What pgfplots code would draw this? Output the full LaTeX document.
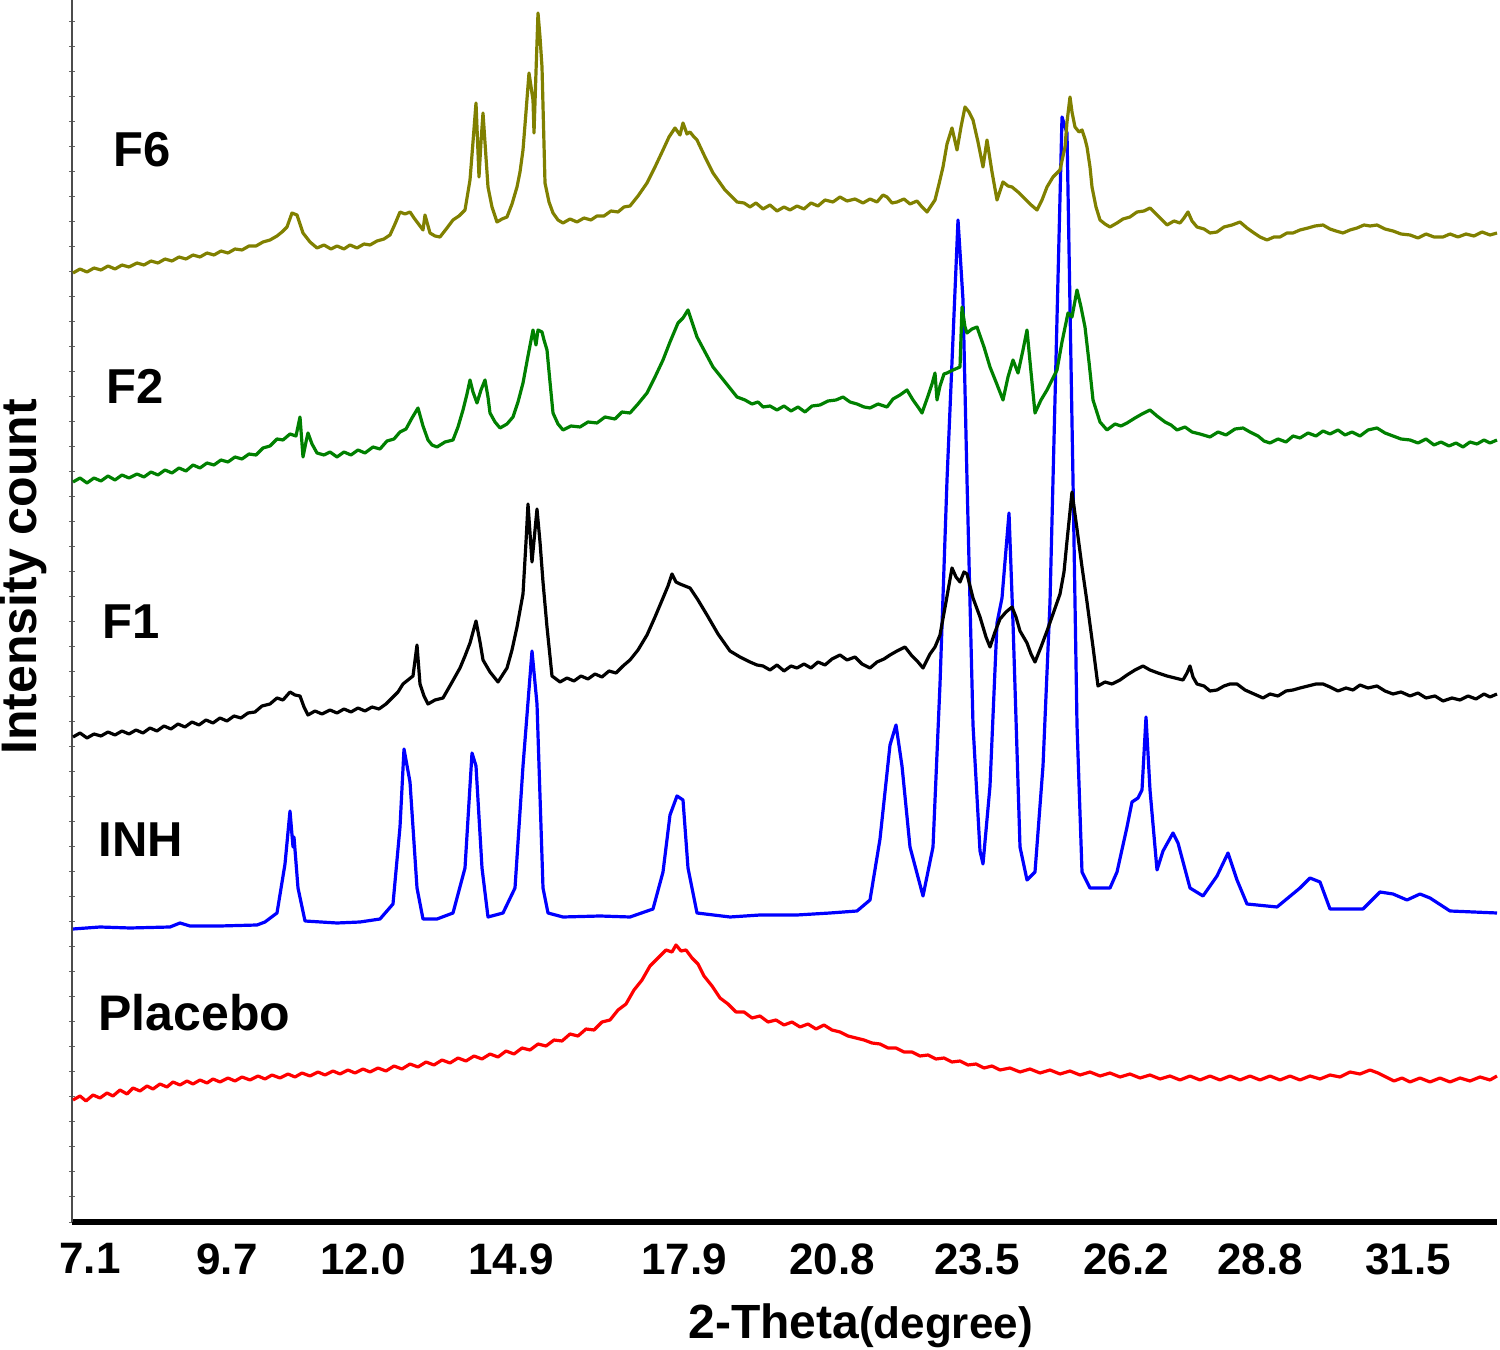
\documentclass[border=0pt]{standalone}
\usepackage{pgfplots}
\pgfplotsset{compat=1.18}
\usepackage{fontspec}
\setmainfont{Liberation Sans}
\definecolor{olivex}{RGB}{128,128,0}
\definecolor{greenx}{RGB}{0,128,0}
\definecolor{bluex}{RGB}{0,0,255}
\definecolor{redx}{RGB}{255,0,0}
\begin{document}
\begin{tikzpicture}
\useasboundingbox (-36pt,-64pt) rectangle (714pt,611pt);
\begin{axis}[
  at={(0,0)}, anchor=south west,
  scale only axis, width=712.5pt, height=611pt,
  xmin=72, xmax=1497, ymin=0, ymax=1222,
  axis x line=bottom, axis y line=left,
  x axis line style={-, line width=3pt, black},
  y axis line style={-, line width=0.8pt, black!70},
  xtick={90,227,363,511,684,832,977,1126,1260,1408},
  xticklabels={7.1,9.7,12.0,14.9,17.9,20.8,23.5,26.2,28.8,31.5},
  xticklabel style={font=\bfseries\fontsize{22}{26}\selectfont, anchor=north, inner sep=0pt, yshift=-9pt},
  major x tick style={draw=none},
  ytick={0,25,...,1222}, yticklabels={},
  major y tick style={black!60, line width=0.5pt},
  major tick length=3pt,
  clip=false,
  every axis plot/.append style={line width=1.6pt, line join=round, no markers},
]
% Placebo
\addplot[redx] coordinates {
(73,122)(80,126)(86,121)(93,127)(100,124)(107,129)(113,126)(120,132)(127,128)(133,134)(140,131)(147,136)(153,133)(160,138)(167,135)(173,140)(180,137)(187,141)(193,138)(200,142)(207,139)(213,143)(220,140)(228,144)(235,141)(242,145)(250,142)(258,146)(265,143)(272,147)(280,144)(288,148)(295,145)(302,149)(310,146)(318,150)(325,147)(333,151)(340,148)(348,152)(355,149)(363,153)(370,150)(378,154)(386,151)(394,156)(402,153)(410,158)(418,155)(426,160)(434,157)(442,162)(450,159)(458,164)(466,161)(474,166)(482,163)(490,168)(498,165)(506,171)(514,168)(522,174)(530,172)(538,178)(546,176)(554,182)(562,181)(570,188)(578,186)(586,193)(594,192)(602,200)(610,202)(618,212)(626,218)(634,232)(642,242)(650,256)(658,264)(666,272)(672,270)(676,277)(681,271)(686,272)(692,264)(698,258)(704,246)(712,236)(720,224)(728,218)(736,210)(744,210)(752,204)(760,206)(768,200)(776,202)(784,197)(792,200)(800,195)(808,198)(816,193)(824,197)(832,192)(840,190)(848,186)(856,184)(864,182)(872,179)(880,178)(888,174)(896,174)(904,170)(912,170)(920,166)(928,167)(936,163)(944,164)(952,160)(960,161)(968,157)(976,158)(984,154)(992,156)(1000,152)(1010,154)(1020,150)(1030,153)(1040,149)(1050,152)(1060,148)(1070,151)(1080,147)(1090,150)(1100,146)(1110,149)(1120,145)(1130,148)(1140,144)(1150,147)(1160,143)(1170,146)(1180,142)(1190,146)(1200,142)(1210,146)(1220,142)(1230,146)(1240,142)(1250,146)(1260,142)(1270,146)(1280,142)(1290,146)(1300,142)(1310,146)(1320,143)(1330,147)(1340,145)(1350,150)(1360,148)(1370,152)(1378,149)(1386,145)(1394,141)(1402,144)(1410,140)(1420,144)(1430,140)(1440,144)(1450,140)(1460,144)(1470,141)(1480,145)(1490,142)(1497,146)
};
% INH
\addplot[bluex] coordinates {
(73,293)(100,295)(130,294)(170,295)(180,299)(190,296)(220,296)(257,297)(265,300)(277,309)(285,358)(290,411)(293,375)(294,385)(298,334)(305,301)(337,299)(360,300)(380,303)(393,318)(400,395)(404,473)(410,440)(417,334)(423,303)(437,303)(453,309)(465,354)(472,469)(476,456)(482,354)(488,305)(503,309)(515,334)(523,456)(532,571)(537,518)(543,334)(548,309)(563,305)(600,306)(630,305)(653,313)(663,350)(670,407)(677,426)(683,422)(688,354)(697,309)(730,305)(760,307)(797,307)(830,309)(857,311)(870,322)(880,383)(890,477)(896,497)(902,456)(910,375)(923,326)(933,375)(940,538)(947,742)(958,1002)(963,922)(967,742)(973,497)(980,371)(983,358)(990,436)(997,599)(1002,624)(1009,709)(1013,599)(1020,375)(1027,342)(1035,350)(1043,456)(1050,620)(1053,742)(1062,1105)(1067,1089)(1073,742)(1077,497)(1082,350)(1090,334)(1110,334)(1117,350)(1127,395)(1132,420)(1138,424)(1142,432)(1146,505)(1150,432)(1157,352)(1163,371)(1173,389)(1178,379)(1190,334)(1203,326)(1217,346)(1228,369)(1237,342)(1247,318)(1277,315)(1300,334)(1310,344)(1320,340)(1330,313)(1363,313)(1380,330)(1393,328)(1407,322)(1420,328)(1430,324)(1450,311)(1497,309)
};
% F1
\addplot[black] coordinates {
(73,485)(80,489)(87,484)(94,488)(101,486)(108,490)(115,487)(122,491)(129,488)(136,492)(143,489)(150,494)(157,491)(164,496)(171,493)(178,498)(185,495)(192,500)(199,497)(206,502)(213,499)(220,504)(227,501)(234,506)(241,504)(248,509)(255,510)(262,516)(270,518)(277,524)(283,522)(290,530)(295,527)(300,526)(304,515)(308,507)(315,511)(322,508)(330,512)(337,509)(344,513)(351,510)(358,514)(365,511)(372,515)(379,513)(386,518)(393,525)(398,530)(403,538)(408,542)(413,546)(417,577)(420,538)(424,526)(428,518)(435,522)(443,524)(451,538)(460,554)(465,566)(470,579)(476,601)(480,580)(483,562)(490,550)(498,540)(507,554)(512,572)(517,595)(523,628)(526,680)(528,718)(532,660)(537,713)(540,680)(543,640)(547,595)(552,546)(560,540)(567,544)(574,541)(581,546)(588,543)(595,548)(602,545)(609,551)(616,549)(623,556)(630,562)(638,572)(647,587)(655,605)(663,624)(668,636)(672,648)(676,640)(680,638)(685,636)(690,634)(698,622)(707,607)(718,588)(730,571)(740,565)(750,560)(757,557)(763,556)(770,552)(777,557)(784,551)(791,556)(797,554)(804,558)(811,554)(818,560)(825,557)(832,563)(840,567)(847,562)(855,565)(862,558)(870,554)(877,560)(884,563)(890,567)(897,571)(905,575)(912,566)(918,560)(923,554)(930,568)(935,575)(940,587)(946,620)(952,654)(956,645)(960,640)(964,650)(967,648)(970,636)(973,624)(980,605)(986,585)(990,575)(995,590)(1000,603)(1006,610)(1012,615)(1016,605)(1020,591)(1027,579)(1031,568)(1035,560)(1041,575)(1047,591)(1053,608)(1060,628)(1064,650)(1067,681)(1072,730)(1077,693)(1082,655)(1087,620)(1093,575)(1098,536)(1105,540)(1112,538)(1120,542)(1127,547)(1135,552)(1143,556)(1150,552)(1158,549)(1167,546)(1175,544)(1183,542)(1187,549)(1190,556)(1193,545)(1197,538)(1204,536)(1210,531)(1217,532)(1224,536)(1230,538)(1237,538)(1245,532)(1254,528)(1263,524)(1270,528)(1278,526)(1286,531)(1293,532)(1300,534)(1308,536)(1316,538)(1323,538)(1330,535)(1338,531)(1346,534)(1353,532)(1360,537)(1368,534)(1377,536)(1385,531)(1393,528)(1401,530)(1410,526)(1418,529)(1426,524)(1435,526)(1443,521)(1452,524)(1460,522)(1468,526)(1476,523)(1484,528)(1490,525)(1497,528)
};
% F2
\addplot[greenx] coordinates {
(73,740)(80,744)(87,739)(94,744)(101,741)(108,746)(115,742)(122,747)(129,744)(137,748)(144,745)(151,750)(158,747)(165,752)(172,749)(179,754)(186,751)(193,757)(200,754)(207,759)(214,757)(221,762)(228,760)(235,765)(242,763)(249,768)(256,767)(263,774)(270,776)(277,783)(283,782)(290,788)(296,786)(300,805)(303,765)(306,780)(308,789)(312,778)(317,769)(324,767)(330,770)(337,765)(344,770)(351,767)(358,772)(365,769)(373,775)(380,773)(387,781)(394,783)(400,790)(406,793)(412,804)(418,814)(423,796)(428,782)(432,777)(437,775)(445,780)(453,782)(458,795)(463,812)(467,828)(470,842)(473,830)(477,819)(481,832)(485,842)(488,825)(490,809)(495,800)(500,794)(507,798)(513,805)(518,820)(523,839)(528,866)(533,892)(536,877)(538,892)(542,890)(544,882)(547,872)(550,840)(553,809)(558,798)(563,792)(571,796)(580,795)(588,800)(597,799)(605,805)(615,803)(622,810)(630,809)(638,818)(647,829)(655,845)(663,862)(670,880)(678,899)(683,904)(688,912)(692,900)(697,885)(705,870)(713,855)(725,840)(737,825)(745,822)(752,818)(758,820)(763,815)(770,816)(777,812)(784,816)(791,811)(798,815)(805,810)(812,816)(820,817)(828,821)(836,822)(843,825)(850,820)(857,818)(864,815)(870,814)(878,818)(887,815)(893,823)(900,827)(907,832)(913,822)(918,815)(922,809)(928,826)(932,838)(935,849)(937,822)(940,836)(944,848)(947,849)(953,852)(960,855)(962,915)(965,895)(967,889)(972,893)(977,895)(984,875)(990,855)(996,840)(1003,822)(1008,845)(1013,862)(1018,849)(1023,872)(1027,892)(1031,850)(1035,809)(1041,822)(1047,832)(1052,842)(1057,852)(1062,880)(1068,909)(1072,905)(1077,932)(1081,915)(1085,895)(1089,860)(1093,822)(1100,800)(1107,792)(1115,798)(1121,796)(1127,799)(1135,804)(1142,808)(1150,812)(1157,806)(1165,800)(1171,797)(1177,792)(1185,795)(1192,790)(1200,788)(1210,785)(1218,790)(1226,787)(1235,793)(1243,794)(1250,790)(1258,786)(1264,781)(1270,779)(1278,783)(1286,780)(1293,786)(1300,784)(1308,789)(1316,786)(1323,791)(1330,788)(1338,792)(1345,787)(1352,790)(1360,786)(1368,792)(1377,794)(1385,789)(1393,786)(1401,783)(1410,782)(1418,779)(1426,783)(1434,777)(1441,780)(1449,776)(1456,779)(1463,775)(1470,780)(1477,778)(1484,782)(1490,779)(1497,782)
};
% F6
\addplot[olivex] coordinates {
(73,949)(80,953)(87,950)(94,954)(101,952)(108,956)(115,953)(122,957)(129,955)(137,959)(144,957)(151,961)(158,959)(165,963)(172,961)(179,965)(186,963)(193,967)(200,965)(207,969)(214,967)(221,971)(228,969)(235,973)(242,972)(249,976)(256,976)(263,980)(270,982)(277,986)(282,990)(287,995)(292,1009)(297,1007)(300,998)(303,989)(310,980)(317,974)(324,977)(331,973)(337,976)(344,973)(350,977)(357,974)(364,978)(370,977)(377,981)(384,983)(390,987)(395,998)(400,1010)(405,1008)(410,1010)(414,1004)(417,1000)(423,992)(425,1007)(430,989)(435,986)(440,985)(447,994)(453,1002)(459,1006)(465,1012)(470,1042)(473,1080)(476,1119)(479,1045)(481,1080)(483,1109)(488,1035)(492,1015)(497,1000)(502,1003)(507,1005)(512,1018)(517,1035)(520,1050)(523,1072)(526,1110)(529,1149)(533,1122)(534,1089)(536,1150)(538,1209)(540,1185)(542,1155)(545,1039)(549,1020)(553,1009)(558,1002)(563,999)(570,1003)(577,1000)(584,1004)(591,1002)(597,1006)(604,1006)(611,1011)(618,1010)(624,1015)(630,1016)(638,1026)(647,1039)(655,1055)(663,1072)(669,1085)(675,1094)(680,1087)(683,1099)(687,1088)(690,1090)(694,1085)(697,1082)(705,1065)(713,1049)(725,1032)(737,1020)(744,1019)(750,1015)(756,1019)(763,1013)(770,1017)(777,1011)(784,1015)(790,1012)(797,1016)(804,1013)(811,1019)(818,1016)(825,1022)(833,1020)(840,1025)(847,1021)(855,1023)(863,1019)(870,1023)(877,1020)(883,1027)(887,1025)(892,1019)(897,1020)(904,1023)(910,1018)(917,1021)(922,1015)(927,1010)(931,1016)(935,1022)(939,1038)(943,1055)(947,1078)(952,1094)(957,1072)(961,1095)(965,1115)(969,1110)(973,1102)(978,1080)(983,1055)(987,1082)(992,1050)(997,1022)(1003,1040)(1008,1036)(1012,1035)(1018,1030)(1023,1025)(1030,1018)(1037,1012)(1042,1022)(1047,1035)(1053,1045)(1060,1052)(1065,1075)(1067,1100)(1070,1125)(1072,1110)(1075,1095)(1079,1090)(1082,1092)(1085,1083)(1087,1075)(1090,1055)(1092,1035)(1096,1015)(1100,1002)(1105,998)(1110,995)(1117,999)(1123,1003)(1130,1005)(1137,1010)(1144,1011)(1150,1014)(1156,1008)(1162,1002)(1167,997)(1174,1001)(1180,999)(1184,1004)(1188,1010)(1192,1001)(1197,995)(1204,993)(1210,989)(1217,990)(1224,995)(1232,997)(1240,1000)(1247,994)(1254,989)(1260,985)(1267,982)(1274,985)(1280,985)(1287,989)(1293,989)(1300,992)(1308,994)(1315,996)(1323,997)(1330,993)(1336,991)(1343,989)(1350,992)(1357,994)(1364,997)(1370,996)(1377,997)(1385,993)(1393,991)(1401,988)(1410,987)(1418,984)(1426,988)(1434,985)(1443,985)(1450,988)(1458,985)(1466,988)(1474,986)(1482,990)(1490,987)(1497,989)
};
\node[anchor=west, inner sep=0pt, font=\bfseries\fontsize{24.5}{28}\selectfont] at (axis cs:113,1072) {F6};
\node[anchor=west, inner sep=0pt, font=\bfseries\fontsize{24.5}{28}\selectfont] at (axis cs:106,836) {F2};
\node[anchor=west, inner sep=0pt, font=\bfseries\fontsize{24.5}{28}\selectfont] at (axis cs:102,600) {F1};
\node[anchor=west, inner sep=0pt, font=\bfseries\fontsize{24.5}{28}\selectfont] at (axis cs:98,382) {INH};
\node[anchor=west, inner sep=0pt, font=\bfseries\fontsize{25}{28}\selectfont] at (axis cs:98,209) {Placebo};
\end{axis}
\node[anchor=base west, inner sep=0pt] at (308pt,-58pt) {\bfseries\fontsize{24}{28}\selectfont 2-Theta\fontsize{22}{26}\selectfont (degree)};
\node[rotate=90, anchor=center, inner sep=0pt, font=\bfseries\fontsize{25}{28}\selectfont] at (-24pt,322.5pt) {Intensity count};
\end{tikzpicture}
\end{document}
